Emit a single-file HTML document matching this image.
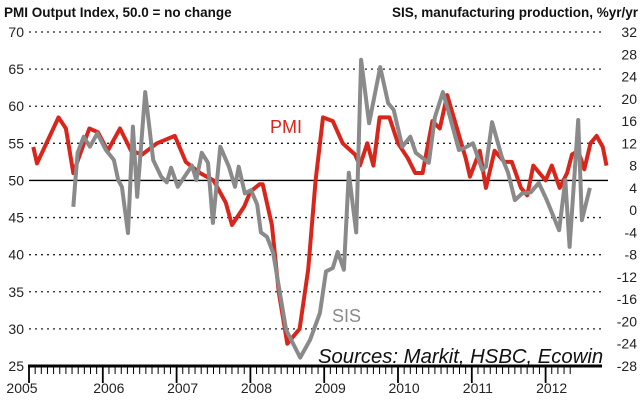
<!DOCTYPE html>
<html><head><meta charset="utf-8"><style>
html,body{margin:0;padding:0;background:#fff;}
svg{display:block;font-family:"Liberation Sans",Arial,sans-serif;}
</style></head><body>
<svg id="chart" width="640" height="404" viewBox="0 0 640 404" xmlns="http://www.w3.org/2000/svg">
<text x="4" y="17" font-size="13.5" font-weight="bold" fill="#111">PMI Output Index, 50.0 = no change</text>
<text x="638" y="17" font-size="13.5" font-weight="bold" fill="#111" text-anchor="end">SIS, manufacturing production, %yr/yr</text>
<g id="grid"></g><g id="axes"></g><g id="series"></g>
<text x="270" y="133" font-size="18" fill="#d9261c">PMI</text>
<text x="332" y="322" font-size="18" fill="#8a8a8a">SIS</text>
<text x="318" y="363" font-size="20.3" font-style="italic" fill="#111">Sources: Markit, HSBC, Ecowin</text>
</svg>
<script>
const leftTicks=[70,65,60,55,50,45,40,35,30,25];
const rightTicks=[32,28,24,20,16,12,8,4,0,-4,-8,-12,-16,-20,-24,-28];
const years=["2005","2006","2007","2008","2009","2010","2011","2012"];
const pmiMonths=[0.7,1.3,4.8,6,7.2,9.8,11.2,12.8,14.8,16.6,18.4,20.8,23.7,25.5,27.8,30,32,33,35,36,37.5,38,39.5,40.6,42,44,45.4,46.6,47.8,49.4,51,53,53.8,55,56,57,58.6,60,61.6,62.8,64,65.6,66.8,68,69.6,71,71.7,73.3,74.3,75.7,77.3,78.5,80,81,82,84,85,86.3,87.5,88.3,89.3,90.3,91.3,92.3,93.3,93.9];
const pmiValues=[54.5,52.3,58.5,57,51,57,56.5,54,57,54,53.5,55,56,52.5,51,50,47,44,46.5,48.5,49.5,49.5,44,35,28,30,38,50,58.5,58,55,53.5,52,55,52,58.5,58.5,55,53,51,51,58,57,61.5,57,53,50.5,54,49,54,52.5,52.5,49,48,52,50,52,49,51,53.5,54,51.5,55,56,54.5,52];
const sisMonths=[7.2,7.9,8.9,9.9,11.1,12.5,13.8,14.5,15.1,16.1,16.9,17.6,18.9,20.2,21.5,22.4,23.1,24.2,26.5,27.2,28.1,29.1,29.9,31.1,32.5,33.5,34.1,35.1,36.1,37.1,37.7,38.7,39.7,41.8,44.1,45.7,47.3,48.3,49.4,50.2,51.2,52,53.2,54,55.3,57.1,58.4,59.3,60.7,62,62.9,65,66,67.3,68.3,69.9,70.9,72.2,73.7,74.3,75.3,76.9,77.9,79,80.2,81.6,82.9,84.2,86.2,87.2,87.9,89.3,89.9,91.2];
const sisValues=[0.6,10.3,13.2,11.4,13.8,10.8,9,5.4,4.2,-4.1,15,2.4,21.2,9,6,5,7.6,4.2,8,5.4,10.3,8.5,-2.3,11.4,7.8,4.2,7.8,3,3.6,1,-4,-4.8,-7.7,-21.5,-26.5,-23.3,-18.5,-11,-10.4,-7.5,-10.7,6.7,-4,27,15.6,25.7,19.2,18,11.4,13.2,10.3,8.5,16.7,21.2,17.4,10.8,11.2,12,7.2,7.8,15.8,9.5,6.7,1.8,3,3.2,4.9,1.8,-3.6,5.4,-6.6,16.2,-1.8,4];
const NS="http://www.w3.org/2000/svg";
const X0=29,MW=6.15,XL=29,XR=602,YT=32,YB=366;
const xM=m=>X0+MW*m;
const yL=v=>YT+(70-v)*(YB-YT)/45;
const yR=v=>YT+(32-v)*(YB-YT)/60;
function mk(tag,attrs,parent){const e=document.createElementNS(NS,tag);for(const k in attrs)e.setAttribute(k,attrs[k]);parent.appendChild(e);return e;}
const grid=document.getElementById('grid'),axes=document.getElementById('axes'),ser=document.getElementById('series');
leftTicks.forEach(v=>{
  if(v>25&&v!==50){const l=mk('line',{x1:XL,x2:XR,y1:yL(v),y2:yL(v),stroke:'#222','stroke-width':1.3,'stroke-dasharray':'2,4'},grid);
  
  }
  const t=mk('text',{x:24,y:yL(v)+5,'font-size':14,'text-anchor':'end',fill:'#222'},axes);t.textContent=v;
  
  
});
const z=mk('line',{x1:XL,x2:XR+6,y1:yL(50),y2:yL(50),stroke:'#000','stroke-width':1.3},grid);


rightTicks.forEach(v=>{
  const t=mk('text',{x:637,y:yR(v)+5,'font-size':14,'text-anchor':'end',fill:'#222'},axes);t.textContent=v;
  
  
});
const ax=mk('line',{x1:XL-1,x2:XR,y1:YB,y2:YB,stroke:'#000','stroke-width':3},axes);


for(let m=0;m<=93;m++){
  const x=xM(m-5);if(x<XL||x>XR)continue;
  const yr=(m-5)%12===0;
  const tk=mk('line',{x1:x,x2:x,y1:YB,y2:yr?YB+17:YB+8,stroke:'#000','stroke-width':yr?1.8:1},axes);
  
  
}
years.forEach((y,i)=>{
  let c=xM(7+12*i)-37; if(i===0)c=22;
  const t=mk('text',{x:c,y:393,'font-size':14,'text-anchor':'middle',fill:'#222'},axes);t.textContent=y;
  
  
});
function line(ms,vs,yf,col,name){
  const d=ms.map((m,i)=>(i?'L':'M')+xM(m).toFixed(1)+','+yf(vs[i]).toFixed(1)).join('');
  const p=mk('path',{d:d,fill:'none',stroke:col,'stroke-width':4,'stroke-linejoin':'round'},ser);
  
  
}
line(pmiMonths,pmiValues,yL,'#d9261c','pmi-line');
line(sisMonths,sisValues,yR,'#8a8a8a','sis-line');
</script>
</body></html>
